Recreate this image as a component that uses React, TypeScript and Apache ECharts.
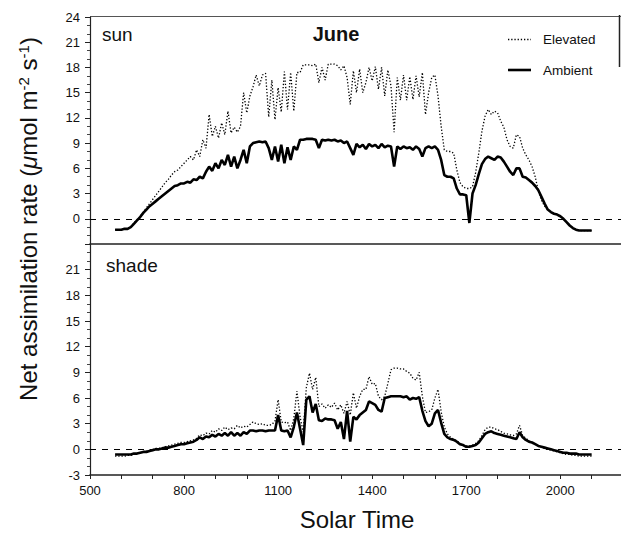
import React, { useEffect, useRef } from "react";
import * as echarts from "echarts";

// Solar time sampling grid (hhmm as number)
const solarTime = [
  580, 590, 600, 610, 620, 630, 640, 650, 660, 670,
  680, 690, 700, 710, 720, 730, 740, 750, 760, 770,
  780, 790, 800, 810, 820, 830, 840, 850, 860, 870,
  880, 890, 900, 910, 920, 930, 940, 950, 960, 970,
  980, 990, 1000, 1010, 1020, 1030, 1040, 1050, 1060, 1070,
  1080, 1090, 1100, 1110, 1120, 1130, 1140, 1150, 1160, 1170,
  1180, 1190, 1200, 1210, 1220, 1230, 1240, 1250, 1260, 1270,
  1280, 1290, 1300, 1310, 1320, 1330, 1340, 1350, 1360, 1370,
  1380, 1390, 1400, 1410, 1420, 1430, 1440, 1450, 1460, 1470,
  1480, 1490, 1500, 1510, 1520, 1530, 1540, 1550, 1560, 1570,
  1580, 1590, 1600, 1610, 1620, 1630, 1640, 1650, 1660, 1670,
  1680, 1690, 1700, 1710, 1720, 1730, 1740, 1750, 1760, 1770,
  1780, 1790, 1800, 1810, 1820, 1830, 1840, 1850, 1860, 1870,
  1880, 1890, 1900, 1910, 1920, 1930, 1940, 1950, 1960, 1970,
  1980, 1990, 2000, 2010, 2020, 2030, 2040, 2050, 2060, 2070,
  2080, 2090, 2100,
];

const sunAmbient = [
  -1.3, -1.3, -1.3, -1.2, -1.2, -1.0, -0.6, -0.2, 0.2, 0.7,
  1.1, 1.5, 1.8, 2.1, 2.4, 2.7, 3.0, 3.3, 3.6, 3.9,
  4.0, 4.2, 4.2, 4.4, 4.3, 4.7, 4.6, 5.0, 4.8, 5.6,
  6.2, 5.7, 6.6, 6.0, 7.0, 6.4, 7.6, 6.2, 7.4, 6.0,
  7.0, 8.2, 6.6, 8.6, 9.0, 9.1, 9.2, 9.1, 9.2, 8.4,
  7.0, 8.6, 6.8, 8.8, 6.6, 8.5, 7.0, 8.6, 8.2, 9.4,
  9.4, 9.5, 9.5, 9.5, 9.4, 8.4, 9.4, 9.3, 9.4, 9.3,
  9.4, 9.2, 9.3, 9.0, 9.2, 8.4, 7.6, 8.9, 8.5, 8.8,
  8.3, 8.9, 8.6, 8.8, 8.4, 8.9, 8.5, 8.7, 8.6, 6.2,
  8.6, 8.3, 8.6, 8.4, 8.5, 8.2, 8.6, 8.3, 7.4, 8.4,
  8.6, 8.4, 8.6, 8.2, 7.0, 5.2, 5.0, 5.0, 4.8, 3.6,
  2.9, 2.9, 2.8, -0.5, 3.0, 4.0, 5.3, 6.5, 7.1, 7.4,
  7.2, 7.0, 7.4, 7.3, 6.8, 6.2, 5.6, 5.2, 6.0, 6.0,
  5.0, 4.9, 4.6, 4.3, 3.9, 3.4, 2.6, 1.8, 1.1, 0.8,
  0.6, 0.5, 0.3, 0.0, -0.4, -0.8, -1.1, -1.3, -1.4, -1.4,
  -1.4, -1.4, -1.4,
];

const sunElevated = [
  -1.3, -1.3, -1.3, -1.2, -1.2, -1.0, -0.5, -0.1, 0.3, 0.8,
  1.3, 1.8, 2.3, 2.8, 3.3, 3.8, 4.3, 4.7, 5.2, 5.6,
  5.8, 6.2, 6.6, 7.0, 7.4, 7.0, 8.2, 7.4, 9.4, 8.4,
  12.4, 9.8, 11.0, 9.6, 11.4, 10.0, 12.8, 10.2, 10.9, 10.3,
  11.0, 15.0, 12.6, 14.6, 15.7, 17.1, 15.8, 17.1, 17.3, 12.1,
  16.5, 11.8, 15.6, 12.7, 17.5, 13.0, 17.4, 12.8, 17.4, 17.4,
  18.3, 18.3, 18.3, 18.2, 18.4, 16.2, 18.0, 16.5, 18.4, 18.4,
  18.4, 18.2, 17.7, 18.2, 16.8, 13.6, 17.6, 15.0, 17.8, 15.0,
  16.2, 18.0, 16.4, 18.1, 15.4, 18.0, 14.6, 17.7, 15.8, 10.3,
  16.8, 14.1, 17.1, 14.1, 16.9, 14.2, 17.0, 14.5, 17.4, 12.4,
  15.0, 16.8, 17.1, 14.6, 11.0, 8.2, 8.0, 8.0, 7.8, 5.8,
  4.3, 3.8, 3.6, 3.6, 3.8, 5.5, 7.8, 10.4, 12.2, 13.0,
  12.4, 12.8, 12.6, 11.6, 10.9, 9.4, 8.6, 8.4, 10.0, 9.8,
  8.4, 7.6, 7.0, 6.2, 5.0, 3.3, 2.2, 1.5, 1.1, 0.8,
  0.6, 0.5, 0.3, 0.0, -0.4, -0.8, -1.1, -1.3, -1.4, -1.4,
  -1.4, -1.4, -1.4,
];

const shadeAmbient = [
  -0.6, -0.6, -0.6, -0.6, -0.6, -0.6, -0.5, -0.5, -0.4, -0.3,
  -0.3, -0.2, -0.1, 0.0, 0.0, 0.1, 0.2, 0.2, 0.3, 0.4,
  0.5, 0.6, 0.6, 0.7, 0.8, 0.9, 1.1, 1.4, 1.2, 1.5,
  1.4, 1.7, 1.5, 1.8, 1.6, 1.9, 1.6, 2.0, 1.6, 1.9,
  1.6, 2.0, 1.8, 2.2, 2.2, 2.1, 2.2, 2.2, 2.1, 2.2,
  2.2, 2.2, 4.0, 2.2, 2.1, 2.2, 1.4, 2.6, 4.3, 2.4,
  0.5, 5.8, 6.2, 4.3, 5.3, 3.4, 3.3, 3.6, 3.5, 3.5,
  3.4, 2.4, 3.2, 1.2, 4.5, 0.9, 3.8, 3.5, 4.0, 4.3,
  4.6, 5.6, 5.4, 5.2, 4.6, 4.4, 6.0, 6.1, 6.2, 6.2,
  6.2, 6.2, 6.1, 6.2, 5.8, 6.0, 5.9, 6.1, 4.5, 3.3,
  2.7, 3.0, 4.2, 4.6, 3.1, 1.8, 1.4, 1.2, 1.1, 0.9,
  0.6, 0.5, 0.3, 0.3, 0.4, 0.5, 0.8, 1.3, 1.8, 2.0,
  2.1, 1.9, 1.8, 1.7, 1.6, 1.5, 1.4, 1.3, 1.2, 2.0,
  1.4, 1.1, 0.9, 0.8, 0.6, 0.4, 0.3, 0.2, 0.1, 0.0,
  -0.1, -0.2, -0.3, -0.4, -0.4, -0.5, -0.5, -0.5, -0.6, -0.6,
  -0.6, -0.6, -0.6,
];

const shadeElevated = [
  -0.8, -0.8, -0.8, -0.8, -0.7, -0.7, -0.6, -0.5, -0.4, -0.3,
  -0.2, -0.1, 0.0, 0.1, 0.1, 0.2, 0.3, 0.4, 0.5, 0.6,
  0.7, 0.8, 0.8, 0.9, 1.0, 1.1, 1.3, 1.7, 1.6, 1.9,
  1.8, 2.2, 2.0, 2.4, 2.2, 2.6, 2.3, 2.5, 2.4, 2.8,
  2.5, 2.7, 2.6, 2.9, 3.2, 3.0, 2.9, 3.0, 2.8, 2.8,
  2.9, 3.3, 5.8, 3.2, 3.1, 3.2, 2.2, 3.6, 6.8, 3.8,
  2.0, 7.2, 8.9, 7.0, 8.4, 5.0, 5.3, 4.8, 5.2, 4.9,
  5.4, 4.6, 5.2, 4.2, 5.6, 4.0, 6.6, 4.8, 6.2, 7.0,
  7.0, 8.5, 7.6, 7.7, 6.2, 5.8, 6.2, 7.7, 9.3, 9.5,
  9.5, 9.4, 9.4, 9.1, 8.9, 8.3, 8.1, 9.0, 6.2, 4.3,
  4.4, 4.6, 6.0, 7.0, 4.4, 2.6, 1.8, 1.4, 1.2, 1.0,
  0.7, 0.5, 0.4, 0.4, 0.5, 0.7, 1.0, 1.6, 2.3, 2.6,
  2.6, 2.4, 2.3, 2.1, 1.9, 1.8, 1.7, 1.6, 1.8, 2.8,
  1.6, 1.3, 1.0, 0.8, 0.6, 0.4, 0.3, 0.1, 0.0, -0.1,
  -0.2, -0.3, -0.4, -0.5, -0.6, -0.6, -0.7, -0.7, -0.8, -0.8,
  -0.8, -0.8, -0.8,
];

const legendNames = ["Elevated", "Ambient"];

const xMin = 500;
const xMax = 2200;
const xLabelStep = 300;
const yMin = -3;
const yMax = 24;
const yStep = 3;

const FONT = "'Liberation Sans', Arial, Helvetica, sans-serif";

const pairs = (vals: number[]) => solarTime.map((t, i) => [t, vals[i]]);

export default function App() {
  const ref = useRef<HTMLDivElement>(null);

  useEffect(() => {
    if (!ref.current) return;
    const chart = echarts.init(ref.current, undefined, { renderer: "svg" });

    const zeroLine = {
      silent: true,
      symbol: ["none", "none"],
      label: { show: false },
      lineStyle: { color: "#000", type: [6, 6], width: 1 },
      data: [{ yAxis: 0 }],
      animation: false,
    };

    const dotDash = [1.3, 1.9];
    const elevatedStyle = { color: "#000", width: 1.3, type: dotDash };
    const ambientStyle = { color: "#000", width: 2.6, type: "solid" };

    const xAxisCommon = {
      type: "value",
      min: xMin,
      max: xMax,
      interval: 100,
      splitLine: { show: false },
    };

    const yAxisCommon = {
      type: "value",
      min: yMin,
      max: yMax,
      interval: yStep,
      splitLine: { show: false },
      axisLine: { show: true, onZero: false, lineStyle: { color: "#222", width: 1.2 } },
      axisTick: { show: true, length: 5, inside: false, lineStyle: { color: "#222" } },
      minorTick: { show: true, splitNumber: 3, length: 3, lineStyle: { color: "#444" } },
    };

    const textStyle = (extra: any) => ({
      fontFamily: FONT,
      fill: "#111",
      align: "left",
      textAlign: "left",
      verticalAlign: "middle",
      textVerticalAlign: "middle",
      ...extra,
    });

    const option = {
      animation: false,
      backgroundColor: "#fff",
      grid: [
        { left: 90, top: 17, width: 533, height: 227, outerBoundsMode: "none", containLabel: false },
        { left: 90, top: 244, width: 533, height: 231, outerBoundsMode: "none", containLabel: false },
      ],
      xAxis: [
        {
          ...xAxisCommon,
          gridIndex: 0,
          axisLine: { show: true, onZero: false, lineStyle: { color: "#222", width: 1.6 } },
          axisTick: { show: false },
          axisLabel: { show: false },
        },
        {
          ...xAxisCommon,
          gridIndex: 1,
          axisLine: { show: true, onZero: false, lineStyle: { color: "#222", width: 1.6 } },
          axisTick: { show: true, length: 4, inside: false, lineStyle: { color: "#222" } },
          axisLabel: {
            show: true,
            margin: 9,
            fontSize: 13,
            fontFamily: FONT,
            color: "#111",
            formatter: (v: number) => ((v - xMin) % xLabelStep === 0 && v <= 2000 ? String(v) : ""),
          },
        },
      ],
      yAxis: [
        {
          ...yAxisCommon,
          gridIndex: 0,
          axisLabel: {
            margin: 10,
            fontSize: 13,
            fontFamily: FONT,
            color: "#111",
            showMinLabel: true,
            showMaxLabel: true,
            formatter: (v: number) => (v === yMin ? "" : String(v)),
          },
        },
        {
          ...yAxisCommon,
          gridIndex: 1,
          axisLabel: {
            margin: 10,
            fontSize: 13,
            fontFamily: FONT,
            color: "#111",
            showMinLabel: true,
            showMaxLabel: true,
            formatter: (v: number) => (v === yMax ? "" : String(v)),
          },
        },
      ],
      series: [
        {
          type: "line",
          name: legendNames[0],
          xAxisIndex: 0,
          yAxisIndex: 0,
          data: pairs(sunElevated),
          symbol: "none",
          lineStyle: elevatedStyle,
          itemStyle: { color: "#000" },
          z: 2,
        },
        {
          type: "line",
          name: legendNames[1],
          xAxisIndex: 0,
          yAxisIndex: 0,
          data: pairs(sunAmbient),
          symbol: "none",
          lineStyle: ambientStyle,
          itemStyle: { color: "#000" },
          z: 3,
          markLine: zeroLine,
        },
        {
          type: "line",
          name: legendNames[0],
          xAxisIndex: 1,
          yAxisIndex: 1,
          data: pairs(shadeElevated),
          symbol: "none",
          lineStyle: elevatedStyle,
          itemStyle: { color: "#000" },
          z: 2,
        },
        {
          type: "line",
          name: legendNames[1],
          xAxisIndex: 1,
          yAxisIndex: 1,
          data: pairs(shadeAmbient),
          symbol: "none",
          lineStyle: ambientStyle,
          itemStyle: { color: "#000" },
          z: 3,
          markLine: zeroLine,
        },
      ],
      graphic: [
        {
          type: "line",
          shape: { x1: 90, y1: 16.5, x2: 621, y2: 16.5 },
          style: { stroke: "#555", lineWidth: 1 },
          silent: true,
        },
        {
          type: "line",
          shape: { x1: 619.5, y1: 15, x2: 619.5, y2: 67 },
          style: { stroke: "#222", lineWidth: 1.5 },
          silent: true,
        },
        // legend
        {
          type: "line",
          shape: { x1: 508, y1: 39.5, x2: 531, y2: 39.5 },
          style: { stroke: "#000", lineWidth: 1.3, lineDash: dotDash },
          silent: true,
        },
        {
          type: "text",
          x: 543,
          y: 39.5,
          style: textStyle({ text: legendNames[0], fontSize: 13.5 }),
        },
        {
          type: "line",
          shape: { x1: 508, y1: 70, x2: 531, y2: 70 },
          style: { stroke: "#000", lineWidth: 2.6 },
          silent: true,
        },
        {
          type: "text",
          x: 543,
          y: 70,
          style: textStyle({ text: legendNames[1], fontSize: 13.5 }),
        },
        {
          type: "text",
          x: 102,
          y: 34,
          style: textStyle({ text: "sun", fontSize: 19 }),
        },
        {
          type: "text",
          x: 336,
          y: 34,
          style: textStyle({
            text: "June",
            fontSize: 20,
            fontWeight: "bold",
            align: "center",
            textAlign: "center",
          }),
        },
        {
          type: "text",
          x: 106,
          y: 265,
          style: textStyle({ text: "shade", fontSize: 19 }),
        },
        {
          type: "text",
          x: 357,
          y: 519,
          style: textStyle({
            text: "Solar Time",
            fontSize: 24,
            align: "center",
            textAlign: "center",
          }),
        },
        {
          type: "text",
          x: 28,
          y: 219,
          rotation: Math.PI / 2,
          style: textStyle({
            text: "{n|Net assimilation rate (}{mu|μ}{n|mol m}{sup|-2}{n| s}{sup|-1}{n|)}",
            fontSize: 24,
            align: "center",
            textAlign: "center",
            rich: {
              n: { fontSize: 24, fontFamily: FONT, fill: "#111", color: "#111" },
              mu: { fontSize: 24, fontFamily: FONT, fontStyle: "italic", fill: "#111", color: "#111" },
              sup: { fontSize: 15, fontFamily: FONT, fill: "#111", color: "#111", verticalAlign: "top" },
            },
          }),
        },
      ],
    };

    chart.setOption(option as any);
    return () => {
      chart.dispose();
    };
  }, []);

  return (
    <div
      ref={ref}
      style={{ position: "absolute", left: 0, top: 0, width: 621, height: 534, background: "#fff" }}
    />
  );
}
